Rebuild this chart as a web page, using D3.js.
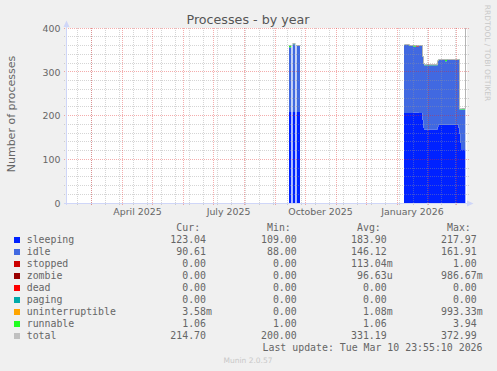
<!DOCTYPE html>
<html>
<head>
<meta charset="utf-8">
<script src="https://cdn.jsdelivr.net/npm/d3@7"></script>
<style>
body { margin: 0; background: #f0f0f0; }
svg { display: block; }
text { font-family: "DejaVu Sans", sans-serif; fill: #666; }
.mono { font-family: "DejaVu Sans Mono", monospace; white-space: pre; }
</style>
</head>
<body>
<svg id="chart" width="497" height="371"></svg>
<script>
// each value holds from its time until the next time; null = no data
const times = [
  "2025-09-15T00:00", "2025-09-17T07:00", "2025-09-18T16:00", "2025-09-21T07:00",
  "2025-09-22T16:00", "2025-09-26T00:00",
  "2026-01-08T00:00", "2026-01-13T00:00", "2026-01-17T00:00", "2026-01-20T00:00",
  "2026-01-23T00:00", "2026-01-26T08:00", "2026-01-27T08:00", "2026-01-28T00:00",
  "2026-02-10T16:00", "2026-02-11T08:00", "2026-02-18T00:00", "2026-02-20T00:00",
  "2026-03-03T08:00", "2026-03-04T12:00", "2026-03-05T08:00", "2026-03-06T00:00",
  "2026-03-10T08:00"
]
const sleeping        = [208, null, 208, null, 208, null, 206, 206, 207, 207, 206, 190, 172, 168, 174, 179, 179, 179, 172, 158, 138, 123, null]
const idle            = [148, null, 155, null, 152, null, 155, 153, 150, 151, 153, 145, 146, 147, 150, 148, 145, 149, 156, 56, 76, 91, null]
const stopped         = [0, null, 0, null, 0, null, 0, 0, 0, 1, 0, 0, 0, 0, 0, 0, 0, 0, 0, 0, 0, 0, null]
const zombie          = [0, null, 0, null, 0, null, 0, 0, 0, 1, 0, 0, 0, 0, 0, 0, 0, 0, 0, 0, 0, 0, null]
const dead            = [0, null, 0, null, 0, null, 0, 0, 0, 0, 0, 0, 0, 0, 0, 0, 0, 0, 0, 0, 0, 0, null]
const paging          = [0, null, 0, null, 0, null, 0, 0, 0, 0, 0, 0, 0, 0, 0, 0, 0, 0, 0, 0, 0, 0, null]
const uninterruptible = [0, null, 0, null, 0, null, 0, 0, 0, 0, 0, 0, 0, 0, 0, 0, 0, 0, 0, 0, 0, 0, null]
const runnable        = [4, null, 1, null, 1, null, 1, 2, 4, 1, 1, 1, 1, 1, 1, 1, 4, 1, 1, 1, 1, 1, null]
const total           = [360, null, 364, null, 361, null, 362, 361, 361, 361, 360, 336, 319, 316, 325, 328, 328, 329, 329, 215, 215, 215, 450]

// legend
const names   = ["sleeping", "idle", "stopped", "zombie", "dead", "paging", "uninterruptible", "runnable", "total"]
const colors  = ["#0022ff", "#4169e1", "#cc0000", "#990000", "#ff0000", "#00aaaa", "#ffa500", "#22ff22", "#c0c0c0"]
const curVals = ["123.04", "90.61", "0.00", "0.00", "0.00", "0.00", "3.58m", "1.06", "214.70"]
const minVals = ["109.00", "88.00", "0.00", "0.00", "0.00", "0.00", "0.00", "1.00", "200.00"]
const avgVals = ["183.90", "146.12", "113.04m", "96.63u", "0.00", "0.00", "1.08m", "1.06", "331.19"]
const maxVals = ["217.97", "161.91", "1.00", "986.67m", "0.00", "0.00", "993.33m", "3.94", "372.99"]

const yTicks = [0, 100, 200, 300, 400]
const xLabelDates = ["2025-04-01", "2025-07-01", "2025-10-01", "2026-01-01"]
const xLabels = ["April 2025", "July 2025", "October 2025", "January 2026"]

const series = { sleeping, idle, stopped, zombie, dead, paging, uninterruptible, runnable }
const keys = Object.keys(series)

const parse = d3.timeParse("%Y-%m-%dT%H:%M")
const start = new Date(2025, 1, 3, 23, 55)
const end = new Date(2026, 2, 10, 23, 55)

const x = d3.scaleTime().domain([start, end]).range([66, 466])
const y = d3.scaleLinear().domain([0, 400]).range([203, 28])
const crisp = v => Math.floor(v) + 0.5

const svg = d3.select("#chart")

// title + labels
svg.append("text")
   .attr("x", 248).attr("y", 24)
   .attr("text-anchor", "middle")
   .style("font-size", "12.7px").style("fill", "#555")
   .text("Processes - by year")

svg.append("text")
   .attr("transform", "translate(15,114) rotate(-90)")
   .attr("text-anchor", "middle")
   .style("font-size", "11px")
   .text("Number of processes")

svg.append("text")
   .attr("transform", "translate(485,53) rotate(90)")
   .attr("text-anchor", "middle")
   .style("font-size", "7.5px").style("fill", "#c8c8c8")
   .text("RRDTOOL / TOBI OETIKER")

// canvas
svg.append("rect")
   .attr("x", 66).attr("y", 28).attr("width", 401).attr("height", 176)
   .attr("fill", "#fff")

svg.append("clipPath").attr("id", "clip")
   .append("rect").attr("x", 66).attr("y", 28).attr("width", 401).attr("height", 176)

// data rows + stack
const rows = times.map((t, i) => {
  const r = { date: parse(t), gap: sleeping[i] == null }
  keys.forEach(k => r[k] = series[k][i] ?? 0)
  return r
})
const stacked = d3.stack().keys(keys)(rows)

function stepPoints(layer) {
  const pts = []
  layer.forEach((d, i) => {
    if (rows[i].gap) { pts.push(null); return }
    const t1 = i + 1 < rows.length ? rows[i + 1].date : end
    pts.push({ t: rows[i].date, y0: d[0], y1: d[1] }, { t: t1, y0: d[0], y1: d[1] })
  })
  return pts
}

const area = d3.area()
  .defined(p => p != null)
  .x(p => x(p.t))
  .y0(p => y(p.y0))
  .y1(p => y(p.y1))

const plot = svg.append("g").attr("clip-path", "url(#clip)")

plot.selectAll("path.layer")
    .data(stacked)
    .join("path")
    .attr("class", "layer")
    .attr("fill", (d, i) => colors[i])
    .attr("d", d => area(stepPoints(d)))

// total line
const totalPts = []
total.forEach((v, i) => {
  if (v == null) { totalPts.push(null); return }
  const t1 = i + 1 < times.length ? parse(times[i + 1]) : end
  totalPts.push({ t: parse(times[i]), v }, { t: t1, v })
})
plot.append("path")
    .attr("fill", "none")
    .attr("stroke", "#b4b4b4")
    .attr("stroke-width", 1)
    .attr("d", d3.line().defined(p => p != null)
                 .x(p => crisp(x(p.t))).y(p => crisp(y(p.v)))(totalPts))

// grid (drawn over the areas, semi transparent like rrdtool)
const minorColor = "rgba(150,150,150,0.4)"
const majorColor = "rgba(225,40,40,0.38)"
const grid = svg.append("g").attr("stroke-dasharray", "1,1")

grid.selectAll("line.hmin")
    .data(y.ticks(20).filter(v => !yTicks.includes(v)))
    .join("line")
    .attr("x1", 64).attr("x2", 469)
    .attr("y1", d => crisp(y(d))).attr("y2", d => crisp(y(d)))
    .attr("stroke", minorColor)

grid.selectAll("line.vmin")
    .data(d3.timeSaturday.range(new Date(2025, 1, 15), end, 2))
    .join("line")
    .attr("y1", 28).attr("y2", 206)
    .attr("x1", d => crisp(x(d))).attr("x2", d => crisp(x(d)))
    .attr("stroke", minorColor)

grid.selectAll("line.hmaj")
    .data(yTicks)
    .join("line")
    .attr("x1", 64).attr("x2", 469)
    .attr("y1", d => crisp(y(d))).attr("y2", d => crisp(y(d)))
    .attr("stroke", majorColor)

grid.selectAll("line.vmaj")
    .data(d3.timeMonth.range(start, end))
    .join("line")
    .attr("y1", 28).attr("y2", 206)
    .attr("x1", d => crisp(x(d))).attr("x2", d => crisp(x(d)))
    .attr("stroke", majorColor)

// axes
const axisColor = "#cfd6f8"
svg.append("line")
   .attr("x1", 66.5).attr("x2", 66.5).attr("y1", 205).attr("y2", 24)
   .attr("stroke", axisColor)
svg.append("line")
   .attr("x1", 64).attr("x2", 470).attr("y1", 203.5).attr("y2", 203.5)
   .attr("stroke", axisColor)
svg.append("path")
   .attr("d", "M63.5,27L66.5,20.5L69.5,27Z").attr("fill", axisColor)
svg.append("path")
   .attr("d", "M467,200.5L473.5,203.5L467,206.5Z").attr("fill", axisColor)

const yAxis = d3.axisLeft(y).tickValues(yTicks).tickSize(0).tickPadding(6)
const gy = svg.append("g").attr("transform", "translate(66.5,0.3)").call(yAxis)
gy.select(".domain").remove()
gy.selectAll("text").attr("fill", "#666").style("font-size", "9.4px").style("font-family", "DejaVu Sans")

const labelPos = xLabelDates.map(s => d3.timeDay.offset(d3.timeParse("%Y-%m-%d")(s), 15))
const xAxis = d3.axisBottom(x).tickValues(labelPos).tickSize(0).tickPadding(5)
                .tickFormat((d, i) => xLabels[i])
const gx = svg.append("g").attr("transform", "translate(0,203)").call(xAxis)
gx.select(".domain").remove()
gx.selectAll("text").attr("fill", "#666").style("font-size", "9.4px").style("font-family", "DejaVu Sans")

// legend
const fmt = s => {
  const u = /[a-z]$/.test(s) ? s.slice(-1) : ""
  const n = u ? s.slice(0, -1) : s
  return n.padStart(6) + u
}
const colX = [170.3, 261, 351, 441]
const headers = ["Cur:", "Min:", "Avg:", "Max:"]
const leg = svg.append("g").attr("class", "legend")

leg.selectAll("text.head")
   .data(headers)
   .join("text")
   .attr("class", "mono head")
   .attr("x", (d, i) => colX[i] + 6).attr("y", 231)
   .style("font-size", "9.9px")
   .text(d => d)

const rowsG = leg.selectAll("g.row")
   .data(names)
   .join("g")
   .attr("transform", (d, i) => `translate(0,${243.3 + i * 12})`)

rowsG.append("rect")
   .attr("x", 14).attr("y", -6.3).attr("width", 6).attr("height", 6)
   .attr("fill", (d, i) => colors[i])

rowsG.append("text")
   .attr("class", "mono")
   .attr("x", 26.7)
   .style("font-size", "9.9px")
   .text(d => d)

;[curVals, minVals, avgVals, maxVals].forEach((vals, c) => {
  rowsG.append("text")
     .attr("class", "mono")
     .attr("x", colX[c])
     .attr("xml:space", "preserve")
     .style("font-size", "9.9px")
     .text((d, i) => fmt(vals[i]))
})

leg.append("text")
   .attr("class", "mono")
   .attr("x", 482.5).attr("y", 350.7)
   .attr("text-anchor", "end")
   .style("font-size", "9.9px")
   .text("Last update: Tue Mar 10 23:55:10 2026")

svg.append("text")
   .attr("x", 248).attr("y", 363.3)
   .attr("text-anchor", "middle")
   .style("font-size", "7.5px").style("fill", "#c8c8c8")
   .text("Munin 2.0.57")
</script>
</body>
</html>
